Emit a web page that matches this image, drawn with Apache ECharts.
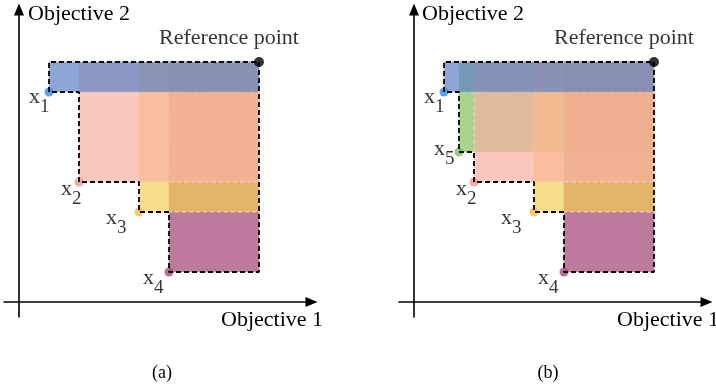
<!DOCTYPE html>
<html><head><meta charset="utf-8">
<script src="https://cdn.jsdelivr.net/npm/echarts@6/dist/echarts.min.js"></script>
<style>html,body{margin:0;padding:0;background:#fff}#c{width:716px;height:389px}</style>
</head><body><div id="c"></div>
<script>
// ---------- data ----------
const pointNamesA = ['x1', 'x2', 'x3', 'x4'];
const objective1A = [1, 2, 4, 5];
const objective2A = [7, 4, 3, 1];
const pointNamesB = ['x1', 'x5', 'x2', 'x3', 'x4'];
const objective1B = [1, 1.5, 2, 4, 5];
const objective2B = [7, 5, 4, 3, 1];
const referencePoint = [8, 8];
const referenceLabel = 'Reference point';
const axisNames = ['Objective 1', 'Objective 2'];
const panelCaptions = ['(a)', '(b)'];

// ---------- styles ----------
const FONT = '"Liberation Serif", "Times New Roman", serif';
const TEXT = '#000';
const fillColor = { x1: '#5c80c4', x2: '#f9b0a2', x3: '#f4cd58', x4: '#9f4172', x5: '#84c25e' };
const pointColor = { x1: '#2a8fe8', x2: '#f09390', x3: '#f2c13c', x4: '#a0507e', x5: '#7dc258' };
const drawOrder = ['x5', 'x4', 'x3', 'x2', 'x1'];
const labelOffset = { x1: [5, 9.5], x2: [7, 11.5], x3: [-8, 10.5], x4: [-1, 10.5], x5: [0, 1.5] };
const FILL_ALPHA = 0.7;
const gridLefts = [4, 399];

function rgba(hex, a) {
  const n = parseInt(hex.slice(1), 16);
  return `rgba(${(n >> 16) & 255},${(n >> 8) & 255},${n & 255},${a})`;
}
function lighten(hex, t, a) {
  const n = parseInt(hex.slice(1), 16);
  const c = [(n >> 16) & 255, (n >> 8) & 255, n & 255].map(v => Math.round(v + (255 - v) * t));
  return `rgba(${c[0]},${c[1]},${c[2]},${a})`;
}

function staircase(xs, ys, ref) {
  const n = xs.length;
  const path = [[xs[0], ys[0]], [xs[0], ref[1]], [ref[0], ref[1]], [ref[0], ys[n - 1]], [xs[n - 1], ys[n - 1]]];
  for (let i = n - 1; i >= 1; i--) {
    path.push([xs[i], ys[i - 1]]);
    path.push([xs[i - 1], ys[i - 1]]);
  }
  return path;
}

const grids = [], xAxes = [], yAxes = [], series = [];
const axisLineStyle = { color: '#000', width: 1.6 };

function buildPanel(idx, names, xs, ys) {
  grids.push({ left: gridLefts[idx], top: 9.5, width: 307.5, height: 307.5 });
  const axisCommon = {
    type: 'value', min: -0.5, max: 9.75,
    axisTick: { show: false }, axisLabel: { show: false }, splitLine: { show: false },
    axisLine: { show: true, onZero: true, lineStyle: axisLineStyle, symbol: ['none', 'triangle'], symbolSize: [10, 12] }
  };
  xAxes.push(Object.assign({ gridIndex: idx }, axisCommon));
  yAxes.push(Object.assign({ gridIndex: idx }, axisCommon));

  const pts = names.map((n, i) => ({ name: n, x: xs[i], y: ys[i] }));
  const ordered = drawOrder.filter(n => names.includes(n)).map(n => pts.find(p => p.name === n));

  series.push({
    type: 'custom', xAxisIndex: idx, yAxisIndex: idx, z: 2, silent: true,
    data: ordered.map(p => [p.x, p.y, referencePoint[0], referencePoint[1]]),
    renderItem: (params, api) => {
      const a = api.coord([api.value(0), api.value(1)]);
      const b = api.coord([api.value(2), api.value(3)]);
      const nm = ordered[params.dataIndex].name;
      return {
        type: 'rect',
        shape: { x: a[0], y: b[1], width: b[0] - a[0], height: a[1] - b[1] },
        style: { fill: rgba(fillColor[nm], FILL_ALPHA), stroke: lighten(fillColor[nm], 0.45, 0.9), lineWidth: 1, lineDash: [4, 3] }
      };
    }
  });

  series.push({
    type: 'scatter', xAxisIndex: idx, yAxisIndex: idx, z: 3, silent: true,
    symbolSize: 9,
    data: pts.map(p => ({
      name: p.name, value: [p.x, p.y], itemStyle: { color: pointColor[p.name] },
      label: { offset: labelOffset[p.name] }
    })),
    label: {
      show: true, position: 'left', distance: 0,
      formatter: p => `{x|x}{s|${p.name.slice(1)}}`,
      rich: {
        x: { fontFamily: FONT, fontSize: 22, color: TEXT, verticalAlign: 'bottom', padding: [0, 0, 8, 0] },
        s: { fontFamily: FONT, fontSize: 19, color: TEXT, verticalAlign: 'bottom' }
      }
    }
  });

  series.push({
    type: 'line', xAxisIndex: idx, yAxisIndex: idx, z: 4, silent: true,
    symbol: 'none', data: staircase(xs, ys, referencePoint),
    lineStyle: { color: '#000', width: 1.8, type: [5, 3] }
  });

  series.push({
    type: 'scatter', xAxisIndex: idx, yAxisIndex: idx, z: 5, silent: true,
    symbolSize: 10, itemStyle: { color: '#000' },
    data: [{ name: referenceLabel, value: referencePoint }],
    label: { show: true, position: 'top', distance: 8, offset: [-30, 0], formatter: '{b}',
      fontFamily: FONT, fontSize: 22, color: TEXT }
  });
}

buildPanel(0, pointNamesA, objective1A, objective2A);
buildPanel(1, pointNamesB, objective1B, objective2B);

const graphic = [];
const nameY2 = [28, 422], nameX1 = [221, 617], captionX = [162, 548];
[0, 1].forEach(i => {
  graphic.push({ type: 'text', x: nameY2[i], y: 14, style: { text: axisNames[1], font: `22px ${FONT}`, fill: TEXT, align: 'left', verticalAlign: 'middle' } });
  graphic.push({ type: 'text', x: nameX1[i], y: 320, style: { text: axisNames[0], font: `22px ${FONT}`, fill: TEXT, align: 'left', verticalAlign: 'middle' } });
  graphic.push({ type: 'text', x: captionX[i], y: 373, style: { text: panelCaptions[i], font: `18px ${FONT}`, fill: TEXT, align: 'center', verticalAlign: 'middle' } });
});

const chart = echarts.init(document.getElementById('c'));
chart.setOption({
  animation: false,
  backgroundColor: '#fff',
  grid: grids, xAxis: xAxes, yAxis: yAxes, series: series, graphic: graphic
});
</script>
</body></html>
